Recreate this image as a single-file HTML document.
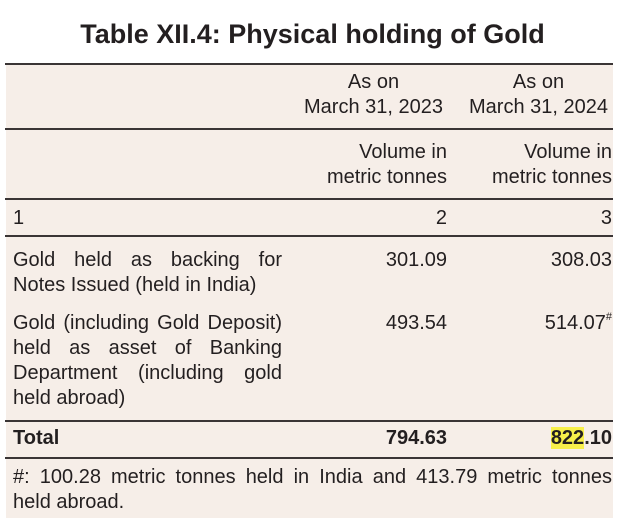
<!DOCTYPE html>
<html><head><meta charset="utf-8"><style>
body{margin:0;width:625px;height:526px;background:#fff;position:relative;overflow:hidden;font-family:"Liberation Sans",Arial,sans-serif;color:#231f20}
.bg{position:absolute;left:6px;top:64px;width:607px;height:454px;background:#f6eee8}
.ln{position:absolute;left:5px;width:608px;height:2px;background:#3a3535}
.t{position:absolute;font-size:20px;line-height:25px;white-space:nowrap}
.r{text-align:right}
.j{text-align:justify;text-align-last:left;white-space:normal}
.jl{display:block;text-align:justify;text-align-last:justify}
.b{font-weight:bold}
h1{position:absolute;left:0;width:625px;top:16px;margin:0;text-align:center;font-size:27px;font-weight:bold;line-height:36px}
mark{background:#f7ef4a;color:inherit}
sup{font-size:11px;line-height:0;position:relative;top:-9px;vertical-align:baseline}
</style></head><body>
<h1>Table XII.4: Physical holding of Gold</h1>
<div class="bg"></div>
<div class="ln" style="top:63px"></div>
<div class="ln" style="top:128px"></div>
<div class="ln" style="top:198px"></div>
<div class="ln" style="top:235px"></div>
<div class="ln" style="top:420px"></div>
<div class="ln" style="top:457px"></div>

<div class="t" style="left:300px;width:147px;text-align:center;top:70px">As on<br>March 31, 2023</div>
<div class="t" style="left:465px;width:147px;text-align:center;top:70px">As on<br>March 31, 2024</div>
<div class="t r" style="left:300px;width:147px;top:140px">Volume in<br>metric tonnes</div>
<div class="t r" style="left:465px;width:147px;top:140px">Volume in<br>metric tonnes</div>
<div class="t" style="left:13px;top:206px">1</div>
<div class="t r" style="left:300px;width:147px;top:206px">2</div>
<div class="t r" style="left:465px;width:147px;top:206px">3</div>

<div class="t j" style="left:13px;width:269px;top:248px">Gold held as backing for Notes Issued (held in India)</div>
<div class="t r" style="left:300px;width:147px;top:248px">301.09</div>
<div class="t r" style="left:465px;width:147px;top:248px">308.03</div>

<div class="t j" style="left:13px;width:269px;top:311px">Gold (including Gold Deposit) held as asset of Banking Department (including gold held abroad)</div>
<div class="t r" style="left:300px;width:147px;top:311px">493.54</div>
<div class="t r" style="left:465px;width:147px;top:311px">514.07<sup>#</sup></div>

<div class="t b" style="left:13px;top:426px">Total</div>
<div class="t r b" style="left:300px;width:147px;top:426px">794.63</div>
<div class="t r b" style="left:465px;width:147px;top:426px"><mark>822</mark>.10</div>

<div class="t" style="left:13px;width:599px;top:465px;white-space:normal"><span class="jl">#: 100.28 metric tonnes held in India and 413.79 metric tonnes</span>held abroad.</div>
</body></html>
